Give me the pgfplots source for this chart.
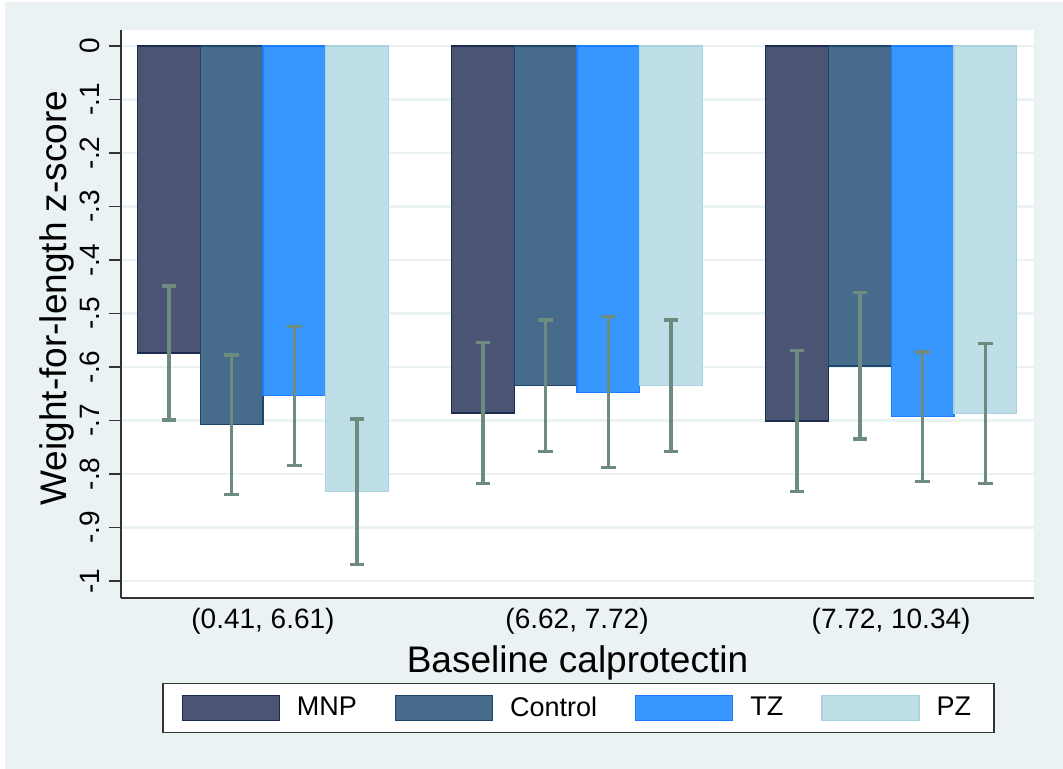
\documentclass[border=0pt]{standalone}
\usepackage{fontspec}
\setmainfont{Liberation Sans}
\usepackage{pgfplots}
\pgfplotsset{compat=1.18}
\definecolor{bgc}{HTML}{EAF2F3}
\definecolor{gridc}{HTML}{EAF2F3}
\definecolor{mnpf}{HTML}{4B5573}
\definecolor{mnpd}{HTML}{1C2B50}
\definecolor{ctlf}{HTML}{476B8A}
\definecolor{ctld}{HTML}{1E456B}
\definecolor{tzf}{HTML}{3896FF}
\definecolor{tzd}{HTML}{1A7FFF}
\definecolor{pzf}{HTML}{BEDFE8}
\definecolor{pzd}{HTML}{AAD3E1}
\definecolor{errc}{HTML}{6E8B7F}
\definecolor{axc}{HTML}{333333}
\pgfplotsset{
  sw/.style={legend image code/.code={\draw[##1] (0pt,-6.25pt) rectangle (48.5pt,6.25pt);}},
  errs/.style={error bars/.cd, y dir=both, y explicit,
    error bar style={draw=errc, line width=1.8pt},
    error mark options={rotate=90, draw=errc, line width=1.8pt, mark size=3.6pt}},
}
\begin{document}
\begin{tikzpicture}
\fill[white] (0,0) rectangle (531.5pt,384.5pt);
\fill[bgc] (2.5pt,0) rectangle (531.5pt,383.5pt);
\begin{axis}[
  at={(60.5pt,85.5pt)}, anchor=south west,
  scale only axis, width=456.5pt, height=284pt,
  xmin=-0.452, xmax=2.455, ymin=-1.0318, ymax=0.0299,
  axis background/.style={fill=white},
  axis x line*=bottom, axis y line*=left,
  axis line style={draw=axc, line width=0.7pt, -},
  ybar, bar width=0.2,
  xtick={0,1,2},
  xticklabels={{(0.41, 6.61)},{(6.62, 7.72)},{(7.72, 10.34)}},
  xtick style={draw=none},
  ytick={-1,-0.9,-0.8,-0.7,-0.6,-0.5,-0.4,-0.3,-0.2,-0.1,0},
  yticklabels={-1,-.9,-.8,-.7,-.6,-.5,-.4,-.3,-.2,-.1,0},
  ytick style={draw=axc, line width=0.7pt},
  tick align=outside, major tick length=6pt,
  ymajorgrids, major grid style={draw=gridc, line width=1.2pt},
  tick label style={font=\fontsize{14}{16}\selectfont, inner sep=0pt},
  yticklabel style={rotate=90, anchor=south},
  yticklabel shift=4.5pt,
  xticklabel shift=-1pt,
  xlabel={Baseline calprotectin},
  ylabel={Weight-for-length z-score},
  xlabel style={font=\fontsize{18.5}{20}\selectfont, inner sep=0pt,
    at={(axis description cs:0.5,-0.0827)}, anchor=north},
  ylabel style={font=\fontsize{18.5}{20}\selectfont, inner sep=0pt,
    at={(axis description cs:-0.0504,0.528)}, anchor=south},
  legend columns=4,
  legend style={at={(axis description cs:0.0449,-0.1496)}, anchor=north west,
    draw=axc, line width=0.75pt, fill=white, inner xsep=9.5pt, inner ysep=4.5pt,
    font=\fontsize{13.5}{15}\selectfont,
    cells={anchor=west, inner xsep=0pt, inner ysep=0pt},
    /tikz/every odd column/.append style={column sep=6.5pt},
    /tikz/every even column/.append style={column sep=17pt}},
]
\addplot[fill=mnpf, draw=mnpd, line width=0.6pt, bar shift=-0.3, sw, errs]
  coordinates {(0,-0.574) +- (0,0.125) (1,-0.686) +- (0,0.132) (2,-0.701) +- (0,0.132)};
\addlegendentry{MNP}
\addplot[fill=ctlf, draw=ctld, line width=0.6pt, bar shift=-0.1, sw, errs]
  coordinates {(0,-0.708) +- (0,0.130) (1,-0.635) +- (0,0.123) (2,-0.598) +- (0,0.137)};
\addlegendentry{Control}
\addplot[fill=tzf, draw=tzd, line width=0.6pt, bar shift=0.1, sw, errs]
  coordinates {(0,-0.654) +- (0,0.130) (1,-0.647) +- (0,0.141) (2,-0.693) +- (0,0.121)};
\addlegendentry{TZ}
\addplot[fill=pzf, draw=pzd, line width=0.6pt, bar shift=0.3, sw, errs]
  coordinates {(0,-0.833) +- (0,0.136) (1,-0.635) +- (0,0.123) (2,-0.687) +- (0,0.131)};
\addlegendentry{PZ}
\end{axis}
\end{tikzpicture}
\end{document}
